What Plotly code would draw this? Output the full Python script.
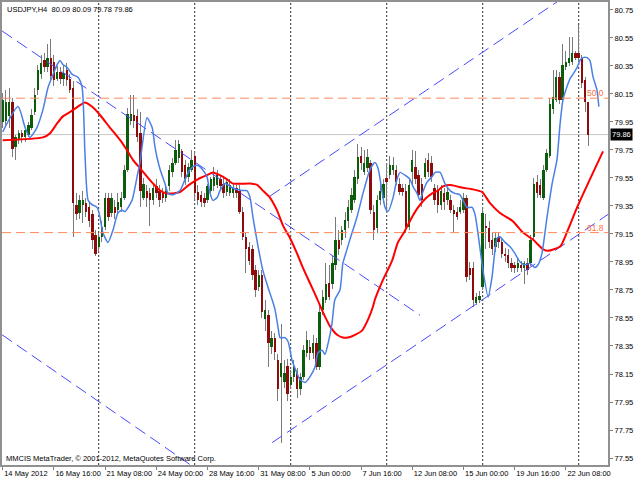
import plotly.graph_objects as go

# ---------------- data ----------------
opens = [
79.95,79.96,79.99,80.09,79.77,79.82,79.87,79.84,79.86,79.91,
80.02,80.18,80.29,80.39,80.34,80.41,80.38,80.26,80.31,80.26,
80.32,80.26,80.19,79.36,79.30,79.36,79.37,79.34,79.29,79.14,
79.06,79.13,79.20,79.41,79.30,79.34,79.32,79.34,79.41,79.61,
79.96,80.00,79.99,79.87,79.41,79.46,79.44,79.39,79.49,79.46,
79.44,79.41,79.49,79.59,79.66,79.69,79.74,79.64,79.56,79.61,
79.71,79.45,79.43,79.41,79.39,79.46,79.49,79.50,79.54,79.51,
79.45,79.44,79.44,79.48,79.46,79.31,79.13,79.06,79.04,78.89,
78.77,78.86,78.54,78.57,78.34,78.41,78.25,78.13,78.09,78.21,
78.07,78.13,78.16,78.04,78.13,78.30,78.34,78.30,78.37,78.20,
78.61,78.68,78.80,78.79,78.93,79.11,79.11,79.18,79.24,79.32,
79.39,79.54,79.71,79.59,79.62,79.66,79.31,79.19,79.39,79.41,
79.55,79.57,79.61,79.61,79.51,79.48,79.46,79.20,79.59,79.63,
79.57,79.51,79.56,79.68,79.66,79.48,79.46,79.36,79.44,79.39,
79.39,79.32,79.31,79.31,79.32,79.41,78.91,78.91,78.66,78.68,
78.77,79.21,79.19,79.11,79.06,79.13,79.09,79.01,79.00,78.94,
78.93,78.91,78.93,78.91,78.94,78.94,79.13,79.52,79.50,79.41,
79.61,79.71,80.04,80.11,80.27,80.11,80.34,80.37,80.38,80.44,
80.44,80.41,80.25,80.09]
highs = [
80.16,80.18,80.19,80.12,79.86,79.89,79.89,79.91,79.95,80.04,
80.19,80.36,80.43,80.44,80.51,80.54,80.43,80.35,80.34,80.36,
80.37,80.29,80.24,79.44,79.43,79.46,79.41,79.37,79.32,79.18,
79.16,79.24,79.44,79.44,79.44,79.39,79.44,79.45,79.64,80.05,
80.14,80.14,80.04,80.02,79.55,79.50,79.48,79.51,79.54,79.50,
79.48,79.50,79.64,79.69,79.82,79.82,79.76,79.68,79.66,79.75,
79.74,79.50,79.46,79.44,79.51,79.56,79.63,79.61,79.57,79.55,
79.55,79.54,79.51,79.50,79.50,79.34,79.16,79.09,79.07,78.93,
78.89,78.89,78.68,78.61,78.46,78.44,78.29,78.51,78.25,78.26,
78.18,78.25,78.19,78.16,78.36,78.46,78.39,78.43,78.41,78.64,
78.75,78.94,78.93,78.99,79.27,79.18,79.21,79.31,79.39,79.48,
79.61,79.79,79.77,79.75,79.76,79.68,79.36,79.43,79.51,79.54,
79.66,79.71,79.70,79.64,79.55,79.51,79.51,79.55,79.75,79.74,
79.61,79.55,79.69,79.73,79.71,79.51,79.50,79.50,79.48,79.48,
79.43,79.36,79.34,79.39,79.44,79.43,78.95,78.95,78.73,78.74,
79.34,79.29,79.24,79.16,79.16,79.16,79.12,79.05,79.04,78.98,
78.95,78.98,78.96,78.96,78.98,79.14,79.55,79.57,79.54,79.64,
79.76,80.12,80.32,80.32,80.31,80.51,80.46,80.56,80.56,80.46,
80.64,80.43,80.27,80.09]
lows = [
79.91,79.93,79.91,79.70,79.68,79.79,79.80,79.81,79.84,79.89,
80.00,80.14,80.26,80.31,80.31,80.25,80.21,80.24,80.22,80.21,
80.21,80.16,79.13,79.25,79.26,79.23,79.27,79.20,79.04,78.99,
79.02,79.09,79.18,79.24,79.27,79.26,79.30,79.31,79.39,79.59,
79.93,79.91,79.81,79.34,79.39,79.34,79.21,79.36,79.41,79.34,
79.37,79.38,79.46,79.56,79.64,79.66,79.56,79.50,79.52,79.59,
79.39,79.36,79.34,79.34,79.37,79.44,79.46,79.48,79.46,79.41,
79.42,79.42,79.41,79.41,79.29,79.11,78.87,78.93,78.82,78.70,
78.74,78.55,78.46,78.20,78.29,78.25,77.96,77.66,78.05,77.96,
78.04,78.09,77.98,78.00,78.11,78.27,78.25,78.26,78.18,78.18,
78.57,78.66,78.68,78.76,78.89,79.00,79.07,79.12,79.19,79.30,
79.37,79.51,79.61,79.57,79.59,79.29,79.11,79.16,79.36,79.37,
79.30,79.54,79.57,79.50,79.43,79.42,79.16,79.18,79.50,79.51,
79.41,79.34,79.54,79.56,79.52,79.36,79.30,79.32,79.32,79.36,
79.30,79.16,79.25,79.29,79.30,78.81,78.82,78.63,78.64,78.66,
78.75,79.04,79.05,79.00,79.02,79.05,78.98,78.95,78.91,78.88,
78.87,78.88,78.88,78.79,78.86,78.92,79.11,79.41,79.41,79.39,
79.59,79.69,80.01,80.09,80.08,80.09,80.32,80.35,80.36,80.39,
80.38,80.19,80.02,79.78]
closes = [
80.11,80.09,80.09,79.76,79.84,79.87,79.84,79.89,79.93,80.00,
80.14,80.32,80.37,80.34,80.41,80.28,80.25,80.31,80.26,80.30,
80.25,80.18,79.37,79.29,79.39,79.39,79.31,79.24,79.11,79.01,
79.13,79.20,79.41,79.27,79.41,79.30,79.38,79.41,79.61,80.01,
80.01,79.96,79.84,79.46,79.51,79.41,79.39,79.48,79.44,79.39,
79.41,79.46,79.61,79.66,79.75,79.79,79.59,79.54,79.63,79.68,
79.44,79.39,79.38,79.37,79.49,79.54,79.56,79.57,79.49,79.44,
79.52,79.50,79.48,79.44,79.31,79.13,79.04,78.96,78.86,78.75,
78.86,78.59,78.61,78.37,78.41,78.31,78.04,78.23,78.16,78.01,
78.13,78.20,78.04,78.13,78.32,78.39,78.30,78.37,78.20,78.59,
78.70,78.79,78.70,78.94,79.11,79.04,79.18,79.25,79.34,79.43,
79.56,79.70,79.66,79.66,79.70,79.32,79.18,79.39,79.46,79.51,
79.52,79.64,79.64,79.52,79.45,79.45,79.20,79.50,79.68,79.54,
79.43,79.39,79.66,79.59,79.56,79.39,79.36,79.46,79.38,79.45,
79.32,79.29,79.27,79.34,79.41,78.84,78.86,78.68,78.70,78.71,
79.30,79.19,79.09,79.04,79.12,79.09,79.01,78.99,78.94,78.91,
78.91,78.94,78.91,78.94,78.89,79.11,79.51,79.44,79.43,79.61,
79.73,80.08,80.13,80.27,80.11,80.36,80.38,80.41,80.44,80.41,
80.41,80.23,80.09,79.86]

# fast moving average (blue), bar position / price
blue_bar = [0.0,4.8,7.0,8.5,10.7,12.6,14.2,15.4,17.0,17.9,
18.8,20.1,21.7,23.5,24.8,25.7,26.7,27.9,29.5,30.4,
31.3,32.9,34.5,36.0,37.3,38.2,40.4,42.0,42.9,45.1,
46.7,47.6,48.2,49.2,50.7,51.7,53.2,55.4,57.0,58.5,
60.2,61.7,63.8,64.8,65.7,67.0,67.9,69.5,71.7,74.8,
76.3,77.3,78.2,79.8,81.3,82.9,84.2,85.1,86.0,86.7,
88.2,89.2,90.4,91.9,92.9,94.5,96.0,97.6,98.5,99.8,
100.7,101.7,102.9,103.8,105.4,106.3,107.6,108.5,110.7,112.6,
114.8,116.3,117.3,118.5,119.5,120.4,122.0,123.2,124.2,125.7,
127.3,128.2,129.5,130.4,131.3,132.6,134.2,135.1,136.7,138.2,
139.8,141.3,142.9,145.1,146.7,147.6,148.5,150.1,151.7,152.9,
154.5,155.4,157.0,158.5,160.1,161.7,163.2,164.8,166.3,167.3,
168.5,170.1,171.7,173.2,174.2,175.1,176.3,177.3,178.2,179.5,
180.4,181.3,182.6,183.5,184.5,185.7,186.3]
blue_val = [79.88,80.06,79.91,79.84,79.91,80.04,80.20,80.27,80.36,80.39,
80.36,80.34,80.29,80.27,80.20,79.73,79.39,79.36,79.34,79.27,
79.16,79.09,79.18,79.30,79.32,79.31,79.39,79.56,79.66,79.98,
79.91,79.77,79.70,79.61,79.51,79.44,79.43,79.46,79.54,79.61,
79.64,79.63,79.56,79.44,79.39,79.41,79.46,79.51,79.48,79.46,
79.46,79.41,79.27,79.06,78.89,78.77,78.68,78.61,78.49,78.41,
78.41,78.38,78.25,78.16,78.11,78.09,78.13,78.20,78.30,78.32,
78.29,78.37,78.51,78.68,78.75,78.94,79.04,79.11,79.27,79.44,
79.61,79.66,79.62,79.46,79.34,79.31,79.41,79.54,79.59,79.57,
79.54,79.49,79.44,79.39,79.45,79.52,79.56,79.59,79.59,79.51,
79.46,79.44,79.43,79.34,79.34,79.29,79.16,78.89,78.70,78.84,
79.12,79.13,79.09,79.06,79.01,78.95,78.93,78.94,78.91,78.93,
79.01,79.27,79.51,79.68,79.94,80.11,80.20,80.26,80.29,80.34,
80.39,80.41,80.41,80.39,80.27,80.18,80.06]

# slow moving average (red)
red_bar = [0.0,12.6,14.8,17.0,18.8,21.0,23.5,25.7,27.9,30.4,
33.5,36.7,38.8,40.7,42.9,45.1,47.0,49.2,51.3,53.2,
55.4,57.6,59.5,61.7,63.8,65.7,67.9,70.1,72.0,77.3,
79.5,81.3,83.5,85.7,87.6,89.8,92.0,93.8,96.0,98.2,
100.1,102.3,104.5,106.3,107.9,110.1,112.3,114.2,115.7,116.3,
118.8,121.7,123.5,125.4,127.9,129.8,132.0,134.2,136.0,137.6,
139.8,142.0,143.8,146.7,149.8,152.3,155.4,159.5,162.6,165.7,
168.9,170.4,174.2,176.3,179.5,183.5,187.6]
red_val = [79.82,79.84,79.87,79.94,79.99,80.02,80.06,80.09,80.06,80.00,
79.91,79.82,79.75,79.68,79.62,79.56,79.51,79.46,79.44,79.44,
79.45,79.49,79.52,79.55,79.57,79.59,79.57,79.54,79.51,79.51,
79.50,79.46,79.41,79.32,79.21,79.12,79.01,78.91,78.80,78.69,
78.59,78.49,78.43,78.41,78.41,78.43,78.46,78.54,78.63,78.68,
78.82,78.96,79.09,79.16,79.27,79.34,79.40,79.44,79.46,79.49,
79.50,79.49,79.48,79.47,79.45,79.37,79.30,79.24,79.16,79.11,
79.04,79.03,79.06,79.16,79.34,79.54,79.74]

# trend lines: start bar/price, end bar/price
tl_bar0 = [-0.2, -0.2, 83.5, 84.2]
tl_px0 = [80.60, 78.43, 79.42, 77.66]
tl_bar1 = [130.4, 60.0, 174.0, 189.2]
tl_px1 = [78.57, 77.48, 80.82, 79.29]

fib_levels = [80.12, 79.16]
fib_labels = ["50.0", "61.8"]
week_starts = [30, 60, 90, 120, 150, 180]
bid_price = 79.86

x_tick_bars = [0, 16, 32, 48, 64, 80, 96, 112, 128, 144, 160, 176]
x_tick_text = ["14 May 2012", "16 May 16:00", "21 May 08:00", "24 May 00:00",
               "28 May 16:00", "31 May 08:00", "5 Jun 00:00", "7 Jun 16:00",
               "12 Jun 08:00", "15 Jun 00:00", "19 Jun 16:00", "22 Jun 08:00"]
y_ticks = [77.55, 77.75, 77.95, 78.15, 78.35, 78.55, 78.75, 78.95, 79.15,
           79.35, 79.55, 79.75, 79.95, 80.15, 80.35, 80.55, 80.75]

title_text = "USDJPY,H4  80.09 80.09 79.78 79.86"
footer_text = "MMCIS MetaTrader, © 2001-2012, MetaQuotes Software Corp."

# ---------------- figure ----------------
idx = list(range(len(closes)))
BULL = "#0b5d0b"
BEAR = "#8e0b0b"
FONT = "Liberation Sans, Arial, sans-serif"
FS = 7.5

fig = go.Figure()

# wicks
fig.add_trace(go.Bar(
    x=idx, base=lows, y=[h - l for h, l in zip(highs, lows)],
    width=0.32, marker=dict(color="#7a7a7a", line=dict(width=0)),
    hoverinfo="skip"))
# bodies
fig.add_trace(go.Bar(
    x=idx, base=[min(o, c) for o, c in zip(opens, closes)],
    y=[max(abs(c - o), 0.006) for o, c in zip(opens, closes)],
    width=0.75,
    marker=dict(color=[BULL if c >= o else BEAR for o, c in zip(opens, closes)],
                line=dict(width=0)),
    hoverinfo="skip"))

# trend lines
for b0, p0, b1, p1 in zip(tl_bar0, tl_px0, tl_bar1, tl_px1):
    fig.add_trace(go.Scatter(x=[b0, b1], y=[p0, p1], mode="lines",
                             line=dict(color="#4848ff", width=1, dash="12px,6px"),
                             hoverinfo="skip"))

# moving averages
fig.add_trace(go.Scatter(x=red_bar, y=red_val, mode="lines",
                         line=dict(color="#ff0000", width=2, shape="spline", smoothing=0.6),
                         hoverinfo="skip"))
fig.add_trace(go.Scatter(x=blue_bar, y=blue_val, mode="lines",
                         line=dict(color="#4a7fe6", width=1.5, shape="spline", smoothing=0.6),
                         hoverinfo="skip"))

shapes = []
for w in week_starts:
    shapes.append(dict(type="line", xref="x", yref="paper", x0=w, x1=w, y0=0, y1=1,
                       line=dict(color="#303030", width=1, dash="2px,2px"), layer="below"))
shapes.append(dict(type="line", xref="paper", yref="y", x0=0, x1=1, y0=bid_price, y1=bid_price,
                   line=dict(color="#c8c8c8", width=1), layer="below"))
for lv in fib_levels:
    shapes.append(dict(type="line", xref="paper", yref="y", x0=0, x1=1, y0=lv, y1=lv,
                       line=dict(color="#ff8a5c", width=1, dash="9px,5px")))

annotations = []
for lv, lab in zip(fib_levels, fib_labels):
    annotations.append(dict(x=1, xref="paper", y=lv, yref="y", text=lab, showarrow=False,
                            xanchor="right", yanchor="bottom", xshift=-2, yshift=-2,
                            font=dict(family=FONT, size=8.5, color="#ff7040")))
annotations.append(dict(x=1, xref="paper", y=bid_price, yref="y", text="%.2f" % bid_price,
                        showarrow=False, xanchor="left", xshift=2, bgcolor="black",
                        borderpad=1, font=dict(family=FONT, size=FS, color="white")))
annotations.append(dict(x=0, xref="paper", y=1, yref="paper", text=title_text, showarrow=False,
                        xanchor="left", yanchor="top", xshift=3, yshift=-1,
                        font=dict(family=FONT, size=FS, color="black")))
annotations.append(dict(x=0, xref="paper", y=0, yref="paper", text=footer_text, showarrow=False,
                        xanchor="left", yanchor="bottom", xshift=2, yshift=0,
                        font=dict(family=FONT, size=FS, color="black")))

fig.update_layout(
    width=640, height=480,
    margin=dict(l=2, r=32, t=2, b=15, autoexpand=False),
    paper_bgcolor="white", plot_bgcolor="white",
    showlegend=False, barmode="overlay", bargap=0,
    font=dict(family=FONT, size=FS, color="black"),
    shapes=shapes, annotations=annotations,
    xaxis=dict(range=[-0.22, 189.16], tickvals=x_tick_bars, ticktext=x_tick_text,
               ticks="outside", ticklen=3, tickcolor="#808080", tickangle=0,
               ticklabelposition="outside right", automargin=False,
               showline=True, linecolor="#909090", linewidth=2, mirror=True,
               showgrid=False, zeroline=False, fixedrange=True,
               tickfont=dict(family=FONT, size=FS, color="black")),
    yaxis=dict(range=[77.5, 80.807], side="right", tickvals=y_ticks, tickformat=".2f",
               ticks="outside", ticklen=3, tickcolor="#808080", automargin=False,
               showline=True, linecolor="#909090", linewidth=2, mirror=True,
               showgrid=False, zeroline=False, fixedrange=True,
               tickfont=dict(family=FONT, size=FS, color="black")),
)

fig.write_html(
    "out.html",
    config={"displayModeBar": False, "staticPlot": True},
    post_script="document.body.style.margin='0';document.body.style.padding='0';"
                "document.body.style.overflow='hidden';",
)
